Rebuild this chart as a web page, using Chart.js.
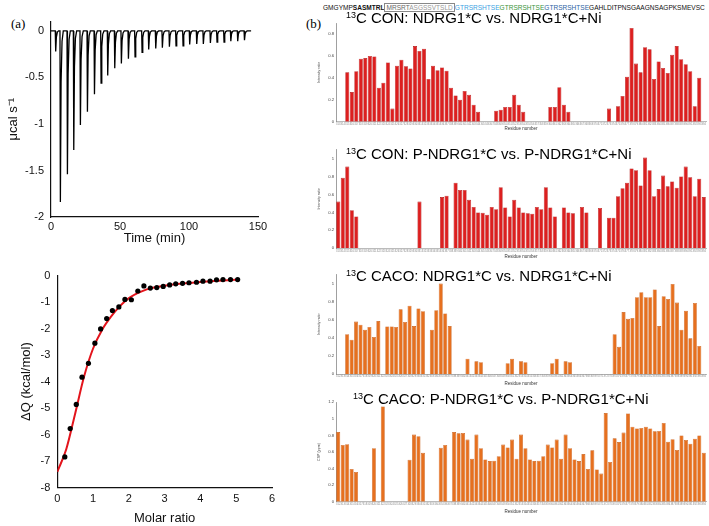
<!DOCTYPE html>
<html>
<head>
<meta charset="utf-8">
<script src="https://cdn.jsdelivr.net/npm/chart.js@4.4.1/dist/chart.umd.min.js"></script>
<style>
body { margin: 0; background: #fff; font-family: 'Liberation Sans', Arial, sans-serif; }
#page { position: relative; width: 709px; height: 526px; overflow: hidden; }
canvas { position: absolute; }
.panel { position: absolute; font-family: 'Liberation Serif', 'Times New Roman', serif; font-size: 13px; }
.ttl { position: absolute; font-size: 15px; line-height: 15px; white-space: nowrap; color: #000; }
.ttl sup { font-size: 9px; vertical-align: 5px; line-height: 0; }
#seq { position: absolute; left: 323px; top: 4px; font-size: 6.55px; line-height: 8px; white-space: nowrap; color: #111; }
#seq .box { border: 1px solid #888; padding: 0 1px; }
</style>
</head>
<body>
<div id="page">
  <div class="panel" style="left:11px;top:16px">(a)</div>
  <div class="panel" style="left:306px;top:16px">(b)</div>
  <div id="seq">GMGYMP<b>SASMTRL</b><span class="box"><span style="color:#666">MRSRT</span><span style="color:#999">ASGSSVTSLD</span></span><span style="color:#3c9fe2">GTRSRSHTSE</span><span style="color:#3a953a">GTRSRSHTSE</span><span style="color:#2d64a4">GTRSRSHTSE</span>GAHLDITPNSGAAGNSAGPKSMEVSC</div>

  <canvas id="itcRaw" width="275" height="244" style="left:0;top:8px"></canvas>
  <canvas id="itcFit" width="290" height="264" style="left:0;top:262px"></canvas>

  <canvas id="b1" width="393" height="115" style="left:316px;top:18px"></canvas>
  <canvas id="b2" width="393" height="117" style="left:316px;top:145px"></canvas>
  <canvas id="b3" width="393" height="118" style="left:316px;top:270px"></canvas>
  <canvas id="b4" width="393" height="120" style="left:316px;top:397px"></canvas>

  <div class="ttl" style="left:346px;top:10px"><sup>13</sup>C CON: NDRG1*C vs. NDRG1*C+Ni</div>
  <div class="ttl" style="left:346px;top:146px"><sup>13</sup>C CON: P-NDRG1*C vs. P-NDRG1*C+Ni</div>
  <div class="ttl" style="left:346px;top:268px"><sup>13</sup>C CACO: NDRG1*C vs. NDRG1*C+Ni</div>
  <div class="ttl" style="left:353px;top:391px"><sup>13</sup>C CACO: P-NDRG1*C vs. P-NDRG1*C+Ni</div>
</div>

<script>
const _ = null;

// ITC raw heat trace: injection times (min) and peak heights (ucal/s)
const injTime = [3.1, 6.5, 11.6, 16.2, 21.0, 26.1, 31.2, 36.0, 40.8, 45.9, 50.7, 55.8, 60.6, 65.7, 70.5,
  75.6, 80.4, 85.5, 90.3, 95.4, 100.2, 105.3, 110.1, 115.2, 120.0, 125.1, 130.0, 135.0, 139.9];
const injPeak = [-0.22, -1.84, -1.54, -1.28, -1.01, -0.87, -0.68, -0.56, -0.48, -0.40, -0.35, -0.30, -0.28, -0.23, -0.20,
  -0.19, -0.18, -0.17, -0.16, -0.16, -0.145, -0.14, -0.14, -0.13, -0.12, -0.12, -0.11, -0.11, -0.10];
const rawTicksY = [-2, -1.5, -1, -0.5, 0];

// integrated heats
const molarRatio = [0.21, 0.36, 0.53, 0.69, 0.87, 1.05, 1.21, 1.38, 1.54, 1.72, 1.89, 2.07, 2.25, 2.42,
  2.60, 2.78, 2.96, 3.14, 3.31, 3.50, 3.68, 3.89, 4.07, 4.27, 4.45, 4.63, 4.84, 5.04];
const heat = [-6.84, -5.77, -4.86, -3.83, -3.31, -2.55, -2.01, -1.62, -1.32, -1.18, -0.90, -0.91, -0.58, -0.39,
  -0.47, -0.45, -0.41, -0.35, -0.31, -0.29, -0.27, -0.25, -0.21, -0.21, -0.16, -0.15, -0.15, -0.15];
const fitRatio = [0, 0.25, 0.5, 0.75, 1.0, 1.25, 1.5, 1.75, 2.0, 2.5, 3.0, 3.5, 4.0, 4.5, 5.05];
const fitHeat = [-7.4, -6.55, -5.2, -3.8, -2.75, -2.05, -1.55, -1.15, -0.85, -0.52, -0.38, -0.30, -0.24, -0.19, -0.15];

// residue-level data (CON spectra: 82 residues, CACO spectra: 83 residues)
const residuesCon = [313, 314, 315, 316, 317, 318, 319, 320, 321, 322, 323, 324, 325, 326, 327, 328, 329, 330,
  331, 332, 333, 334, 335, 336, 337, 338, 339, 340, 341, 342, 343, 344, 345, 346, 347, 348, 349, 350, 351,
  352, 353, 354, 355, 356, 357, 358, 359, 360, 361, 362, 363, 364, 365, 366, 367, 368, 369, 370, 371, 372,
  373, 374, 375, 376, 377, 378, 379, 380, 381, 382, 383, 384, 385, 386, 387, 388, 389, 390, 391, 392, 393, 394];
const residuesCaco = [312, 313, 314, 315, 316, 317, 318, 319, 320, 321, 322, 323, 324, 325, 326, 327, 328, 329, 330,
  331, 332, 333, 334, 335, 336, 337, 338, 339, 340, 341, 342, 343, 344, 345, 346, 347, 348, 349, 350, 351,
  352, 353, 354, 355, 356, 357, 358, 359, 360, 361, 362, 363, 364, 365, 366, 367, 368, 369, 370, 371, 372,
  373, 374, 375, 376, 377, 378, 379, 380, 381, 382, 383, 384, 385, 386, 387, 388, 389, 390, 391, 392, 393, 394];

const conNative = [_, _, 0.45, 0.27, 0.46, 0.575, 0.58, 0.60, 0.595, 0.31, 0.355, 0.54, 0.12, 0.51, 0.565,
  0.505, 0.485, 0.69, 0.645, 0.665, 0.39, 0.51, 0.47, 0.495, 0.465, 0.31, 0.24, 0.20, 0.28, 0.245, 0.155, 0.09,
  _, _, _, 0.10, 0.11, 0.135, 0.135, 0.245, 0.155, 0.09, _, _, _, _, _, 0.135, 0.135, 0.315, 0.155, 0.09,
  _, _, _, _, _, _, _, _, 0.12, _, 0.14, 0.235, 0.41, 0.855, 0.53, 0.45, 0.68, 0.66, 0.39, 0.55,
  0.49, 0.445, 0.61, 0.69, 0.57, 0.525, 0.46, 0.14, 0.40, _];

const conPhos = [0.52, 0.785, 0.91, 0.425, 0.355, _, _, _, _, _, _, _, _, _, _, _, _, _, 0.52, _, _, _, _,
  0.57, 0.585, _, 0.73, 0.65, 0.65, 0.54, 0.46, 0.40, 0.395, 0.375, 0.46, 0.435, 0.68, 0.455, 0.355, 0.54,
  0.455, 0.40, 0.39, 0.385, 0.46, 0.435, 0.68, 0.455, 0.355, _, 0.455, 0.40, 0.39, _, 0.46, 0.40, _, _, 0.45, _,
  0.34, 0.34, 0.58, 0.67, 0.73, 0.89, 0.87, 0.70, 1.01, 0.87, 0.58, 0.66, 0.81, 0.69, 0.745, 0.675, 0.80,
  0.91, 0.79, 0.58, 0.775, 0.57];

const cacoNative = [_, _, 0.44, 0.38, 0.58, 0.545, 0.49, 0.52, 0.41, 0.585, _, 0.525, 0.525, 0.52, 0.715,
  0.575, 0.755, 0.53, 0.725, 0.695, _, 0.49, 0.705, 1.0, 0.67, 0.53, _, _, _, 0.17, _, 0.14, 0.13,
  _, _, _, _, _, 0.12, 0.17, _, 0.14, 0.13, _, _, _, _, _, 0.12, 0.17, _, 0.14, 0.13, _, _, _, _, _, _, _, _, _,
  0.44, 0.30, 0.685, 0.61, 0.62, 0.85, 0.905, 0.85, 0.85, 0.935, 0.53, 0.86, 0.83, 0.995, 0.79, 0.49, 0.70,
  0.395, 0.785, 0.31, _];

const cacoPhos = [0.84, 0.685, 0.695, 0.395, 0.36, _, _, _, 0.645, _, 1.15, _, _, _, _, _, 0.505, 0.81, 0.79,
  0.59, _, _, _, 0.65, 0.685, _, 0.84, 0.825, 0.83, 0.75, 0.52, 0.81, 0.645, 0.51, 0.49, 0.495, 0.55, 0.69, 0.655,
  0.75, 0.52, 0.81, 0.645, 0.51, 0.49, 0.495, 0.55, 0.69, 0.655, 0.75, 0.52, 0.81, 0.645, 0.51, 0.49, 0.575,
  0.395, 0.62, 0.39, 0.34, 1.07, 0.48, 0.765, 0.72, 0.835, 1.065, 0.905, 0.885, 0.89, 0.905, 0.885, 0.85,
  0.855, 0.95, 0.725, 0.755, 0.625, 0.80, 0.745, 0.70, 0.76, 0.80, 0.59];

Chart.defaults.font.family = "'Liberation Sans', Arial, Helvetica, sans-serif";
Chart.defaults.devicePixelRatio = 1;

const fmt = v => String(Math.round(v * 100) / 100);
const noPlugins = { legend: { display: false }, tooltip: { enabled: false } };
const noGrid = { display: false, drawTicks: false };

// spike shape: time offsets after injection and fraction of peak
const spikeDt = [0, 0.3, 0.8, 1.5, 2.4];
const spikeFrac = [0, 1, 0.3, 0.06, 0];
const trace = [{ x: 0, y: 0 }];
injTime.forEach((t, i) => {
  spikeDt.forEach((d, k) => trace.push({ x: t + d, y: injPeak[i] * spikeFrac[k] }));
});
trace.push({ x: 145, y: 0 });

new Chart(document.getElementById('itcRaw'), {
  type: 'scatter',
  data: { datasets: [{ data: trace, showLine: true, borderColor: '#000', borderWidth: 1.3, pointRadius: 0 }] },
  options: {
    responsive: false, animation: false,
    layout: { padding: { top: 6.7, right: 17 } },
    plugins: noPlugins,
    scales: {
      x: {
        type: 'linear', min: 0, max: 150,
        ticks: { stepSize: 50, font: { size: 11 }, color: '#111', padding: 3 },
        grid: noGrid, border: { color: '#111', width: 1.2 },
        title: { display: true, text: 'Time (min)', font: { size: 13 }, color: '#111', padding: { top: 0, bottom: 6 } },
        afterFit: s => { s.height = 35; }
      },
      y: {
        min: -2, max: 0.1,
        afterBuildTicks: s => { s.ticks = rawTicksY.map(v => ({ value: v })); },
        ticks: { font: { size: 11 }, color: '#111', padding: 7, callback: fmt },
        grid: noGrid, border: { color: '#111', width: 1.2 },
        title: { display: true, text: 'μcal s⁻¹', font: { size: 13 }, color: '#111', padding: { top: 6, bottom: 0 } },
        afterFit: s => { s.width = 51; }
      }
    }
  }
});

new Chart(document.getElementById('itcFit'), {
  type: 'scatter',
  data: {
    datasets: [
      { data: molarRatio.map((x, i) => ({ x: x, y: heat[i] })), pointRadius: 2.6, pointBackgroundColor: '#000',
        pointBorderWidth: 0, order: 0 },
      { data: fitRatio.map((x, i) => ({ x: x, y: fitHeat[i] })), showLine: true, pointRadius: 0,
        borderColor: '#e3141c', borderWidth: 2, cubicInterpolationMode: 'monotone', order: 1 }
    ]
  },
  options: {
    responsive: false, animation: false,
    layout: { padding: { top: 11.3, right: 18 } },
    plugins: noPlugins,
    scales: {
      x: {
        type: 'linear', min: 0, max: 6,
        ticks: { stepSize: 1, font: { size: 11 }, color: '#111', padding: 5 },
        grid: noGrid, border: { color: '#111', width: 1.2 },
        title: { display: true, text: 'Molar ratio', font: { size: 13 }, color: '#111', padding: { top: 0, bottom: 0 } },
        afterFit: s => { s.height = 38.3; }
      },
      y: {
        min: -8, max: 0,
        ticks: { stepSize: 1, font: { size: 11 }, color: '#111', padding: 7, callback: fmt },
        grid: noGrid, border: { color: '#111', width: 1.2 },
        title: { display: true, text: 'ΔQ (kcal/mol)', font: { size: 13 }, color: '#111', padding: { top: 19, bottom: 0 } },
        afterFit: s => { s.width = 57.3; }
      }
    }
  }
});

function residueChart(id, labels, values, fill, edge, yMax, yTitle, padTop, xHeight, titleBottom) {
  new Chart(document.getElementById(id), {
    type: 'bar',
    data: {
      labels: labels,
      datasets: [{ data: values, backgroundColor: fill, borderColor: edge, borderWidth: 0.6,
        barPercentage: 0.9, categoryPercentage: 1 }]
    },
    options: {
      responsive: false, animation: false,
      layout: { padding: { top: padTop, right: 3 } },
      plugins: noPlugins,
      scales: {
        x: {
          grid: noGrid, border: { color: '#aaa', width: 0.8 },
          ticks: { font: { size: 2.6 }, color: '#888', autoSkip: false, maxRotation: 0, minRotation: 0, padding: 1 },
          title: { display: true, text: 'Residue number', font: { size: 4.5 }, color: '#333', padding: { top: 0, bottom: titleBottom } },
          afterFit: s => { s.height = xHeight; }
        },
        y: {
          min: 0, max: yMax,
          grid: noGrid, border: { color: '#888', width: 0.8 },
          ticks: { stepSize: 0.2, includeBounds: false, font: { size: 4.2 }, color: '#444', padding: 2, callback: fmt },
          title: { display: true, text: yTitle, font: { size: 3.6 }, color: '#444', padding: { top: 0.9, bottom: 0 } },
          afterFit: s => { s.width = 20; }
        }
      }
    }
  });
}

residueChart('b1', residuesCon, conNative, '#dc1f1f', '#b01414', 0.9, 'Intensity ratio', 5, 11.3, 1.3);
residueChart('b2', residuesCon, conPhos, '#dc1f1f', '#b01414', 1.1, 'Intensity ratio', 4.3, 13.7, 2.3);
residueChart('b3', residuesCaco, cacoNative, '#e6701f', '#c45a14', 1.1, 'Intensity ratio', 4.2, 14, 1.3);
residueChart('b4', residuesCaco, cacoPhos, '#e6701f', '#c45a14', 1.2, 'CSP (ppm)', 5.3, 15.3, 2.3);
</script>
</body>
</html>
